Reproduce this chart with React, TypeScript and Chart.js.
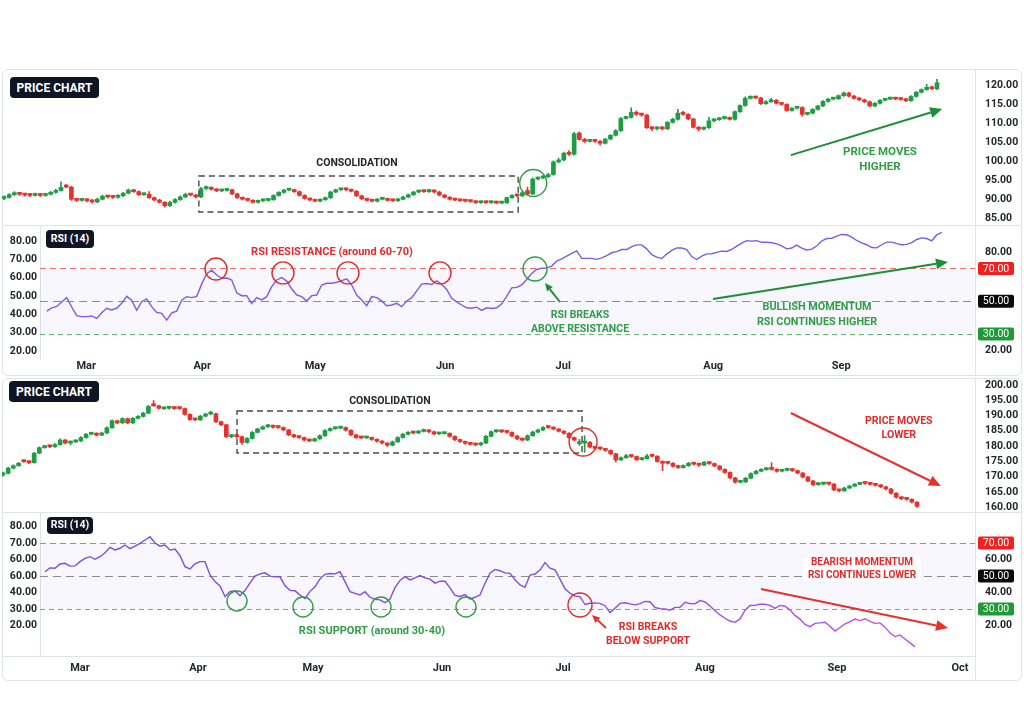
import React, { useEffect, useRef } from 'react';
import { Chart, registerables } from 'chart.js';

Chart.register(...registerables);

const FONT = 'Roboto, "Liberation Sans", Arial, sans-serif';
Chart.defaults.font.family = FONT;

// palette
const UP = '#1f9d45';
const DOWN = '#e5322d';
const INK = '#23272e';
const TXT_GREEN = '#2f9e44';
const TXT_RED = '#e22a2a';
const ARROW_GREEN = '#1c8f37';
const ARROW_RED = '#e8302c';
const RULE = '#e0e3e7';
const BADGE = '#0f1522';

// ---------- upper panel: breakout above resistance ----------
// daily candles: [open, high, low, close]
const upCandles = [
  [90.2, 90.9, 89.9, 90.5], [90.5, 91.5, 90.3, 91.2], [91.2, 92.0, 91.0, 91.6], [91.6, 91.8, 91.0, 91.3], [91.3, 91.5, 90.8, 91.1],
  [91.1, 91.4, 90.7, 91.0], [91.0, 91.6, 90.8, 91.3], [91.3, 91.5, 90.7, 91.0], [91.0, 91.6, 90.8, 91.3], [91.3, 92.1, 91.1, 91.8],
  [91.8, 92.6, 91.6, 92.3], [92.3, 94.6, 92.1, 93.1], [93.6, 93.9, 93.0, 93.2], [93.2, 93.4, 89.7, 90.0], [90.0, 90.3, 89.4, 89.7],
  [89.7, 90.2, 89.5, 89.9], [89.9, 90.1, 89.3, 89.6], [89.6, 89.9, 89.0, 89.3], [89.3, 90.3, 89.1, 90.0], [90.0, 91.1, 89.8, 90.8],
  [90.8, 91.0, 90.3, 90.6], [90.6, 90.9, 90.2, 90.5], [90.5, 91.2, 90.3, 90.9], [90.9, 91.8, 90.7, 91.6], [91.6, 92.7, 91.4, 92.4],
  [92.4, 92.6, 91.8, 92.0], [92.0, 92.2, 91.0, 91.2], [91.2, 91.6, 91.0, 91.3], [91.3, 92.0, 90.2, 90.4], [90.4, 90.6, 89.6, 89.8],
  [89.8, 90.0, 89.0, 89.2], [89.2, 89.4, 87.9, 88.3], [88.3, 89.5, 88.1, 89.2], [89.2, 90.2, 89.0, 89.9], [89.9, 90.9, 89.7, 90.6],
  [90.6, 91.6, 90.4, 91.3], [91.3, 91.5, 90.9, 91.1], [91.1, 91.3, 90.3, 90.6], [90.6, 93.1, 90.4, 92.8], [92.8, 93.5, 92.6, 93.1],
  [93.1, 93.3, 92.4, 92.6], [92.6, 92.8, 92.0, 92.2], [92.2, 92.6, 92.0, 92.3], [92.3, 92.8, 92.1, 92.5], [92.5, 92.7, 91.2, 91.4],
  [91.4, 91.6, 90.2, 90.4], [90.4, 90.6, 89.8, 90.0], [90.0, 90.2, 89.5, 89.7], [89.7, 89.9, 89.0, 89.2], [89.2, 89.8, 89.0, 89.6],
  [89.6, 89.9, 89.4, 89.7], [89.7, 90.1, 89.5, 89.9], [89.9, 91.2, 89.7, 91.0], [91.0, 92.0, 90.8, 91.8], [91.8, 92.6, 91.6, 92.4],
  [92.4, 92.8, 92.2, 92.5], [92.5, 92.7, 91.8, 92.0], [92.0, 92.2, 90.8, 91.0], [91.0, 91.2, 90.0, 90.2], [90.2, 90.4, 89.6, 89.8],
  [89.8, 90.0, 89.3, 89.5], [89.5, 90.1, 89.3, 89.9], [89.9, 90.6, 89.7, 90.4], [90.4, 92.1, 90.2, 91.9], [91.9, 92.7, 91.7, 92.5],
  [92.5, 92.9, 92.3, 92.6], [92.6, 92.8, 92.2, 92.5], [92.5, 92.7, 91.9, 92.1], [92.1, 92.3, 90.7, 90.9], [90.9, 91.1, 89.9, 90.1],
  [90.1, 90.3, 89.5, 89.7], [89.7, 89.9, 89.3, 89.5], [89.5, 90.2, 89.3, 90.0], [90.0, 90.4, 89.8, 90.1], [90.1, 90.3, 89.5, 89.7],
  [89.7, 89.9, 89.4, 89.6], [89.6, 90.2, 89.4, 90.0], [90.0, 90.8, 89.8, 90.6], [90.6, 91.4, 90.4, 91.2], [91.2, 92.1, 91.0, 91.9],
  [91.9, 92.4, 91.7, 92.2], [92.2, 92.4, 91.8, 92.0], [92.0, 92.6, 91.8, 92.3], [92.3, 92.5, 91.7, 91.9], [91.9, 92.1, 90.9, 91.1],
  [91.1, 91.3, 90.3, 90.5], [90.5, 90.7, 89.8, 90.0], [90.0, 90.2, 89.6, 89.8], [89.8, 90.0, 89.4, 89.6], [89.6, 89.9, 89.3, 89.5],
  [89.5, 89.7, 89.2, 89.4], [89.4, 89.6, 88.9, 89.1], [89.1, 89.5, 88.9, 89.3], [89.3, 89.5, 88.9, 89.1], [89.1, 89.5, 88.9, 89.3],
  [89.3, 89.5, 88.8, 89.0], [89.0, 89.3, 88.8, 89.1], [89.1, 90.6, 88.9, 90.4], [90.4, 91.2, 90.2, 91.0], [91.0, 91.2, 90.6, 90.9],
  [90.9, 92.0, 90.7, 91.7], [92.3, 93.2, 91.2, 91.4], [91.4, 95.6, 91.2, 95.3], [95.3, 95.9, 95.1, 95.6], [95.6, 96.2, 95.4, 95.9],
  [95.9, 96.8, 95.7, 96.5], [96.5, 100.1, 96.3, 99.8], [99.8, 100.8, 99.6, 100.3], [100.3, 102.4, 100.1, 102.1], [102.3, 102.8, 101.5, 101.8],
  [101.8, 107.6, 101.6, 107.2], [107.4, 107.7, 105.5, 105.7], [105.7, 106.0, 104.9, 105.2], [105.2, 105.6, 105.0, 105.3], [105.3, 105.6, 104.9, 105.2],
  [105.2, 105.4, 104.2, 104.7], [104.7, 106.0, 104.5, 105.8], [105.8, 107.0, 105.6, 106.8], [106.8, 108.3, 106.6, 108.0], [108.0, 111.5, 107.8, 111.2],
  [111.2, 111.8, 111.0, 111.5], [111.5, 114.0, 111.3, 112.8], [112.8, 113.2, 112.0, 112.3], [112.3, 112.5, 111.8, 112.1], [112.1, 112.3, 108.6, 108.8],
  [108.8, 109.1, 108.0, 108.5], [108.5, 109.0, 108.2, 108.7], [108.7, 109.0, 108.2, 108.5], [108.5, 110.4, 108.3, 110.2], [110.2, 111.3, 110.0, 111.0],
  [111.0, 113.6, 110.8, 112.6], [112.6, 113.1, 112.1, 112.3], [112.3, 112.5, 110.9, 111.1], [111.1, 111.3, 108.7, 108.9], [108.9, 109.1, 107.9, 108.4],
  [108.4, 109.0, 108.2, 108.8], [108.8, 111.5, 108.6, 110.6], [110.6, 111.1, 110.4, 110.9], [110.9, 111.4, 110.7, 111.2], [111.2, 111.6, 111.0, 111.4],
  [111.4, 111.6, 110.8, 111.0], [111.0, 113.2, 110.8, 113.0], [113.0, 114.8, 112.8, 114.6], [114.6, 116.9, 114.4, 116.5], [116.5, 117.2, 116.3, 116.8],
  [116.8, 117.0, 116.4, 116.6], [116.6, 116.8, 114.9, 115.1], [115.1, 115.9, 114.9, 115.6], [115.6, 116.5, 115.4, 116.0], [116.0, 116.2, 115.0, 115.2],
  [115.2, 115.4, 114.7, 114.9], [114.9, 115.1, 113.1, 113.3], [113.3, 114.1, 113.1, 113.9], [113.9, 114.3, 113.7, 114.1], [114.1, 114.3, 111.8, 112.3],
  [112.3, 112.8, 112.1, 112.6], [112.6, 113.8, 112.4, 113.6], [113.6, 114.7, 113.4, 114.5], [114.5, 115.9, 114.3, 115.7], [115.7, 116.5, 115.5, 116.3],
  [116.3, 116.7, 116.1, 116.4], [116.4, 117.4, 116.2, 117.2], [117.2, 118.2, 117.0, 117.9], [117.9, 118.1, 116.9, 117.1], [117.1, 117.3, 116.3, 116.5],
  [116.5, 116.7, 115.9, 116.1], [116.1, 116.3, 115.4, 115.6], [115.6, 115.8, 114.3, 114.5], [114.5, 115.4, 114.3, 115.2], [115.2, 116.2, 115.0, 116.0],
  [116.0, 116.5, 115.8, 116.3], [116.3, 116.8, 116.1, 116.5], [116.5, 116.7, 116.1, 116.3], [116.3, 116.5, 116.0, 116.2], [116.2, 116.4, 115.6, 115.9],
  [115.9, 117.2, 115.7, 117.0], [117.0, 118.3, 116.8, 118.1], [118.1, 119.0, 117.9, 118.8], [118.8, 120.2, 118.6, 119.4], [119.5, 119.7, 118.8, 119.0],
  [119.0, 121.5, 118.8, 120.6],
];

// RSI(14), one value per session
const upRsi = [
  44.0, 46.0, 46.8, 49.5, 52.2, 46.5, 41.2, 40.6, 40.6, 41.0,
  39.5, 43.0, 45.7, 44.7, 45.7, 48.7, 53.0, 50.7, 44.5, 49.7,
  51.4, 46.7, 43.2, 42.6, 38.5, 42.9, 44.0, 50.6, 52.8, 52.2,
  53.0, 60.6, 66.8, 69.0, 66.0, 64.0, 64.2, 63.0, 55.2, 53.4,
  53.4, 48.7, 52.2, 50.8, 52.8, 58.9, 63.0, 64.5, 62.3, 57.6,
  53.8, 52.8, 50.2, 53.4, 53.8, 59.9, 61.0, 61.0, 61.6, 62.6,
  63.7, 59.9, 53.8, 50.8, 47.3, 52.8, 52.2, 50.2, 47.3, 47.7,
  48.7, 46.7, 50.2, 52.2, 56.3, 60.5, 60.8, 60.2, 62.5, 60.3,
  57.2, 51.8, 49.6, 47.7, 46.0, 45.7, 46.4, 44.4, 46.0, 45.6,
  46.0, 48.4, 53.0,
  58.2, 58.5, 60.0, 63.3, 67.0, 69.4, 70.2, 70.4, 71.5, 74.5,
  75.9, 77.5, 79.2, 80.8, 76.2, 76.2, 76.2, 75.6, 76.5, 77.9,
  79.6, 80.3, 81.6, 81.6, 83.4, 84.4, 84.4, 82.0, 78.4, 76.9,
  76.1, 78.8, 81.1, 82.6, 82.5, 81.6, 77.3, 75.5, 77.5, 78.9,
  79.0, 79.8, 80.6, 80.4, 81.6, 83.7, 85.5, 87.0, 86.7, 87.0,
  86.0, 86.0, 85.7, 85.0, 83.8, 82.0, 82.5, 84.3, 82.4, 81.3,
  81.8, 83.7, 86.8, 88.3, 88.4, 89.8, 90.8, 90.6, 89.1, 87.1,
  85.7, 84.5, 82.8, 82.6, 84.5, 86.1, 86.1, 85.2, 84.5, 84.7,
  85.8, 87.7, 88.7, 88.3, 86.9, 90.5, 92.1,
];

const upPriceTicks = [85, 90, 95, 100, 105, 110, 115, 120];
const upRsiLeftTicks = [80, 70, 60, 50, 40, 30, 20];
const upRsiLeftLabels = ['80.00', '70.00', '60.00', '50.00', '40.00', '30.00', '20.00'];
const upRsiRightTicks = [80, 20];
const upMonths = ['Mar', 'Apr', 'May', 'Jun', 'Jul', 'Aug', 'Sep'];
const upMonthAt = [7.9, 31.1, 53.7, 79.7, 103.3, 133.3, 158.9];

// ---------- lower panel: breakdown below support ----------
const downCandles = [
  [170.6, 171.5, 170.2, 171.1], [171.1, 173.1, 170.9, 172.8], [172.8, 173.9, 172.6, 173.6], [173.6, 174.7, 173.4, 174.4], [175.3, 175.5, 174.7, 174.9],
  [174.9, 175.1, 174.3, 174.6], [174.6, 178.0, 174.4, 177.7], [177.7, 179.8, 177.5, 179.5], [179.5, 180.3, 179.3, 180.0], [180.0, 180.2, 179.5, 179.8],
  [179.8, 180.8, 179.6, 180.5], [180.5, 182.4, 180.3, 182.0], [182.0, 182.2, 180.7, 181.0], [181.0, 181.7, 180.4, 181.4], [181.4, 182.0, 181.2, 181.7],
  [181.7, 183.1, 181.5, 182.8], [182.8, 184.2, 182.6, 183.9], [183.9, 184.5, 183.7, 184.2], [184.2, 184.4, 183.3, 183.6], [183.6, 184.6, 183.4, 184.3],
  [184.3, 186.3, 184.1, 186.0], [186.0, 188.6, 185.8, 188.3], [188.3, 188.5, 187.3, 187.6], [187.6, 189.3, 187.4, 189.0], [189.0, 189.2, 187.3, 187.6],
  [187.6, 189.4, 187.4, 189.1], [189.1, 190.0, 188.9, 189.7], [189.7, 191.1, 189.5, 190.8], [190.8, 193.3, 190.6, 193.0], [193.8, 194.9, 193.0, 193.2],
  [193.2, 193.4, 192.1, 192.4], [192.2, 192.8, 192.0, 192.4], [192.4, 192.8, 192.1, 192.5], [192.5, 192.9, 192.0, 192.3], [192.5, 192.7, 192.0, 192.3],
  [192.3, 192.5, 190.1, 190.4], [190.4, 190.6, 188.4, 188.7], [188.7, 189.0, 188.3, 188.6], [188.6, 190.1, 188.4, 189.8], [189.8, 190.8, 189.6, 190.5],
  [190.5, 191.4, 190.3, 190.6], [190.6, 190.8, 187.7, 188.0], [188.0, 188.2, 186.7, 187.0], [187.0, 187.2, 182.8, 183.1], [183.1, 183.9, 182.7, 183.2],
  [183.2, 183.8, 182.6, 183.1], [183.1, 183.3, 180.6, 181.2], [181.2, 182.8, 181.0, 182.5], [182.5, 184.8, 182.3, 184.5], [184.5, 185.9, 184.3, 185.6],
  [185.6, 186.6, 185.4, 186.3], [186.3, 187.1, 186.1, 186.7], [186.7, 186.9, 185.9, 186.2], [186.2, 186.5, 185.8, 186.1], [186.1, 186.3, 185.0, 185.3],
  [185.3, 185.5, 183.4, 183.7], [183.7, 183.9, 182.8, 183.1], [183.1, 183.4, 182.5, 182.8], [182.8, 183.0, 181.7, 182.0], [182.0, 182.3, 181.4, 181.7],
  [181.7, 182.7, 181.5, 182.4], [182.4, 183.7, 182.2, 183.4], [183.4, 185.4, 183.2, 185.1], [185.1, 186.0, 184.9, 185.7], [185.7, 186.2, 185.5, 185.9],
  [185.9, 186.5, 185.7, 186.1], [186.1, 186.3, 184.9, 185.2], [185.2, 185.4, 183.4, 183.7], [183.7, 183.9, 182.5, 182.8], [182.8, 183.1, 182.4, 182.7],
  [182.7, 183.1, 182.5, 182.8], [182.8, 183.0, 181.9, 182.2], [182.2, 182.4, 181.3, 181.6], [181.6, 181.8, 180.7, 181.0], [181.0, 181.2, 179.9, 180.3],
  [180.3, 181.7, 180.1, 181.4], [181.4, 183.1, 181.2, 182.8], [182.8, 184.2, 182.6, 183.9], [183.9, 184.8, 183.7, 184.5], [184.5, 184.7, 184.0, 184.3],
  [184.3, 185.1, 184.1, 184.8], [184.8, 185.6, 184.6, 185.2], [185.2, 185.4, 184.4, 184.7], [184.7, 184.9, 183.7, 184.0], [184.0, 184.4, 183.8, 184.1],
  [184.1, 184.5, 183.9, 184.2], [184.2, 184.4, 182.9, 183.2], [183.2, 183.4, 181.8, 182.1], [182.1, 182.3, 181.2, 181.5], [181.5, 181.7, 180.6, 180.9],
  [180.9, 181.1, 180.3, 180.6], [180.6, 180.8, 180.1, 180.4], [180.4, 181.3, 180.2, 181.0], [181.0, 183.5, 180.8, 183.2], [183.2, 185.0, 183.0, 184.7],
  [184.7, 185.4, 184.5, 185.0], [185.0, 185.2, 184.4, 184.7], [184.7, 184.9, 184.2, 184.5], [184.5, 184.7, 183.0, 183.3], [183.3, 183.5, 182.1, 182.4],
  [182.4, 182.6, 181.7, 182.0], [182.0, 183.7, 181.8, 183.4], [183.4, 184.9, 183.2, 184.6], [184.6, 185.6, 184.4, 185.3], [185.3, 186.4, 185.1, 186.1],
  [186.3, 186.6, 185.8, 186.1], [186.1, 186.3, 185.3, 185.6], [185.6, 185.8, 184.6, 184.9], [184.9, 185.1, 183.9, 184.2], [184.2, 184.4, 182.5, 182.8],
  [182.8, 183.0, 181.7, 182.0], [180.8, 182.2, 180.2, 181.0], [181.0, 183.4, 178.0, 181.3], [181.3, 181.5, 179.4, 179.7], [179.7, 179.9, 179.0, 179.3],
  [179.3, 179.6, 178.8, 179.1], [179.1, 179.3, 178.3, 178.6], [178.6, 178.8, 177.2, 177.5], [177.5, 177.7, 174.8, 175.5], [175.5, 176.5, 175.3, 176.2],
  [176.2, 177.3, 176.0, 176.9], [176.9, 177.1, 176.3, 176.6], [176.6, 176.8, 175.3, 175.6], [175.6, 176.1, 175.4, 175.9], [175.9, 177.3, 175.7, 176.8],
  [176.8, 177.0, 176.4, 176.7], [176.7, 176.9, 174.7, 175.0], [175.0, 175.2, 172.0, 174.4], [174.6, 174.8, 174.1, 174.4], [174.4, 174.6, 173.1, 173.4],
  [173.4, 173.6, 172.7, 173.0], [173.0, 173.9, 172.8, 173.6], [173.6, 174.7, 173.4, 174.4], [174.4, 174.6, 173.8, 174.1], [174.1, 174.3, 173.4, 173.8],
  [173.8, 175.0, 173.6, 174.7], [174.7, 174.9, 174.0, 174.3], [174.3, 174.5, 173.2, 173.5], [173.5, 173.7, 172.1, 172.4], [172.4, 172.6, 171.1, 171.4],
  [171.4, 171.6, 169.3, 169.6], [169.6, 169.8, 167.9, 168.2], [168.2, 168.6, 167.9, 168.3], [168.3, 169.8, 168.1, 169.5], [169.5, 171.3, 169.3, 171.0],
  [171.0, 172.1, 170.8, 171.8], [171.8, 172.6, 171.6, 172.3], [172.3, 173.0, 172.1, 172.7], [172.7, 174.6, 172.1, 172.4], [172.4, 172.6, 171.5, 171.8],
  [171.8, 172.4, 171.6, 172.1], [172.1, 172.8, 171.9, 172.5], [172.5, 172.7, 171.7, 172.0], [172.0, 172.2, 170.9, 171.2], [171.2, 171.4, 169.6, 169.9],
  [169.9, 170.1, 168.3, 168.6], [168.6, 168.8, 167.1, 167.4], [167.4, 168.1, 167.2, 167.8], [167.6, 168.1, 167.4, 167.8], [167.8, 168.0, 167.3, 167.6],
  [167.6, 167.8, 165.4, 165.7], [165.7, 165.9, 165.0, 165.4], [165.4, 166.6, 165.2, 166.3], [166.3, 167.2, 166.1, 166.9], [166.9, 167.8, 166.7, 167.5],
  [167.5, 168.1, 167.3, 167.8], [168.0, 168.2, 167.5, 167.8], [167.8, 168.0, 167.2, 167.5], [167.5, 167.7, 166.9, 167.2], [167.2, 167.4, 166.4, 166.7],
  [166.7, 166.9, 165.7, 166.0], [166.0, 166.2, 164.3, 164.6], [164.6, 164.8, 163.0, 163.3], [163.3, 163.5, 162.5, 162.8], [162.8, 163.1, 162.3, 162.6],
  [162.6, 162.8, 161.4, 161.7], [161.7, 161.9, 160.0, 160.3],
];

const downRsi = [
  52.6, 54.9, 54.7, 57.3, 57.7, 56.0, 56.1, 58.7, 60.7, 61.7,
  60.1, 61.7, 64.1, 67.4, 65.8, 66.8, 68.8, 66.6, 68.1, 69.8,
  71.8, 73.8, 70.0, 68.1, 68.8, 65.7, 66.3, 62.3, 55.6, 54.3,
  57.4, 58.7, 58.7, 50.6, 46.6, 44.0, 37.5, 40.5, 41.1, 38.0,
  41.2, 45.8, 49.9, 51.3, 51.9, 49.9, 49.5, 49.5, 44.1, 41.3,
  41.1, 38.4, 36.3, 40.7, 43.4, 48.2, 51.0, 51.5, 51.3, 52.6,
  46.6, 40.5, 39.5, 38.5, 40.5, 37.1, 35.9, 35.5, 33.8, 36.1,
  42.9, 47.3, 49.6, 47.6, 48.8, 50.3, 48.9, 48.1, 45.7, 46.9,
  46.8, 42.8, 38.2, 37.6, 38.7, 36.1, 37.1, 38.5, 45.6, 51.7,
  54.0, 53.2, 51.9, 51.6, 47.7,
  44.6, 43.1, 50.6, 51.2, 53.6, 58.1, 54.7, 53.7, 48.1, 42.2,
  39.6, 37.8, 37.5, 32.7, 33.5, 33.7, 33.4, 32.0, 27.8, 30.4,
  33.4, 33.8, 33.1, 32.5, 33.3, 34.6, 34.4, 30.9, 30.2, 30.1,
  29.3, 31.0, 31.0, 34.1, 33.3, 33.1, 35.1, 34.3, 31.8, 28.9,
  26.4, 24.4, 22.7, 21.9, 24.0, 29.1, 32.1, 32.2, 32.9, 32.9,
  32.2, 30.4, 32.2, 31.7, 29.4, 26.1, 23.9, 20.6, 19.3, 21.3,
  21.6, 22.0, 19.6, 16.6, 18.8, 21.0, 22.4, 23.9, 23.0, 24.1,
  22.5, 21.3, 21.6, 19.0, 15.4, 13.3, 14.2, 11.8, 9.5, 7.2,
];

const downPriceTicks = [160, 165, 170, 175, 180, 185, 190, 195, 200];
const downRsiLeftTicks = [80, 70, 60, 50, 40, 30, 20];
const downRsiLeftLabels = ['80.00', '70.00', '60.00', '60.00', '40.00', '30.00', '20.00'];
const downRsiRightTicks = [60, 40, 20];
const downMonths = ['Mar', 'Apr', 'May', 'Jun', 'Jul', 'Aug', 'Sep', 'Oct'];
const downMonthAt = [7, 30.6, 53.6, 79.4, 103.6, 132, 158.4, 183];

// overbought / midline / oversold guides
const rsiLevels = [70, 50, 30];
const rsiLevelColors = ['#ef6f6f', '#8c8c8c', '#5dbb6f'];
const rsiBadgeColors = ['#f2201e', '#0b0b0b', '#1e9a36'];

// ---------- drawing helpers ----------
type Note =
  | { t: 'box'; x0: number; x1: number; y0: number; y1: number; color: string }
  | { t: 'text'; x: number; y: number; lines: string[]; color: string; size: number; lh?: number; bg?: boolean }
  | { t: 'circle'; x: number; y: number; r: number; color: string }
  | { t: 'arrow'; x0: number; y0: number; x1: number; y1: number; color: string; head?: number };

function drawArrow(ctx: CanvasRenderingContext2D, x0: number, y0: number, x1: number, y1: number, color: string, head: number) {
  const ang = Math.atan2(y1 - y0, x1 - x0);
  const half = head * 0.45;
  const bx = x1 - head * Math.cos(ang);
  const by = y1 - head * Math.sin(ang);
  ctx.setLineDash([]);
  ctx.strokeStyle = color;
  ctx.fillStyle = color;
  ctx.lineWidth = 2;
  ctx.beginPath();
  ctx.moveTo(x0, y0);
  ctx.lineTo(bx, by);
  ctx.stroke();
  ctx.beginPath();
  ctx.moveTo(x1, y1);
  ctx.lineTo(bx + half * Math.sin(ang), by - half * Math.cos(ang));
  ctx.lineTo(bx - half * Math.sin(ang), by + half * Math.cos(ang));
  ctx.closePath();
  ctx.fill();
}

function notesPlugin(notes: Note[]) {
  return {
    id: 'notes',
    afterDatasetsDraw(chart: any) {
      const ctx: CanvasRenderingContext2D = chart.ctx;
      const X = (v: number) => chart.scales.x.getPixelForValue(v);
      const Y = (v: number) => chart.scales.y.getPixelForValue(v);
      ctx.save();
      for (const n of notes) {
        if (n.t === 'box') {
          ctx.setLineDash([6, 4]);
          ctx.lineWidth = 1.4;
          ctx.strokeStyle = n.color;
          ctx.strokeRect(X(n.x0), Y(n.y0), X(n.x1) - X(n.x0), Y(n.y1) - Y(n.y0));
        } else if (n.t === 'circle') {
          ctx.setLineDash([]);
          ctx.lineWidth = 1.4;
          ctx.strokeStyle = n.color;
          ctx.beginPath();
          ctx.arc(X(n.x), Y(n.y), n.r, 0, Math.PI * 2);
          ctx.stroke();
        } else if (n.t === 'arrow') {
          drawArrow(ctx, X(n.x0), Y(n.y0), X(n.x1), Y(n.y1), n.color, n.head ?? 12);
        } else {
          ctx.font = `bold ${n.size}px ${FONT}`;
          ctx.textAlign = 'center';
          ctx.textBaseline = 'middle';
          const lh = n.lh ?? n.size * 1.3;
          const cx = X(n.x);
          const top = Y(n.y) - ((n.lines.length - 1) * lh) / 2;
          if (n.bg) {
            const w = Math.max(...n.lines.map((l) => ctx.measureText(l).width)) + 10;
            ctx.fillStyle = '#ffffff';
            ctx.fillRect(cx - w / 2, top - lh / 2, w, lh * n.lines.length);
          }
          ctx.fillStyle = n.color;
          n.lines.forEach((l, i) => ctx.fillText(l, cx, top + i * lh));
        }
      }
      ctx.restore();
    },
  };
}

function rsiGuidesPlugin() {
  return {
    id: 'rsiGuides',
    beforeDatasetsDraw(chart: any) {
      const ctx: CanvasRenderingContext2D = chart.ctx;
      const a = chart.chartArea;
      const ys = chart.scales.y;
      const yHi = ys.getPixelForValue(rsiLevels[0]);
      const yLo = ys.getPixelForValue(rsiLevels[2]);
      ctx.save();
      ctx.fillStyle = 'rgba(124, 92, 230, 0.055)';
      ctx.fillRect(a.left, yHi, a.right - a.left, yLo - yHi);
      const dashes = [[6, 4], [8, 5], [5, 4]];
      rsiLevels.forEach((lv, i) => {
        const y = Math.round(ys.getPixelForValue(lv)) + 0.5;
        ctx.setLineDash(dashes[i]);
        ctx.strokeStyle = rsiLevelColors[i];
        ctx.lineWidth = 1;
        ctx.beginPath();
        ctx.moveTo(a.left, y);
        ctx.lineTo(a.right, y);
        ctx.stroke();
      });
      ctx.restore();
    },
    afterDraw(chart: any) {
      const ctx: CanvasRenderingContext2D = chart.ctx;
      const a = chart.chartArea;
      const ys = chart.scales.y;
      ctx.save();
      rsiLevels.forEach((lv, i) => {
        const y = ys.getPixelForValue(lv);
        const x = a.right + 3;
        const w = 36;
        const h = 13;
        ctx.fillStyle = rsiBadgeColors[i];
        ctx.beginPath();
        ctx.roundRect(x, y - h / 2, w, h, 2);
        ctx.fill();
        ctx.fillStyle = '#ffffff';
        ctx.font = `10.5px ${FONT}`;
        ctx.textAlign = 'center';
        ctx.textBaseline = 'middle';
        ctx.fillText(lv.toFixed(2), x + w / 2, y + 0.5);
      });
      ctx.restore();
    },
  };
}

const AXIS_W_RIGHT = 46;
const AXIS_W_LEFT = 38;

function makePriceChart(canvas: HTMLCanvasElement, candles: number[][], yMin: number, yMax: number, ticks: number[], firstPx: number, lastPx: number, notes: Note[]) {
  const n = candles.length;
  const step = (lastPx - firstPx) / (n - 1);
  const plotRight = canvas.width - AXIS_W_RIGHT;
  const colors = candles.map((c) => (c[3] >= c[0] ? UP : DOWN));
  return new Chart(canvas, {
    type: 'bar',
    data: {
      datasets: [
        { label: 'range', data: candles.map((c, i) => ({ x: i, y: [c[2], c[1]] })), backgroundColor: colors, barThickness: 1, grouped: false, order: 2 },
        { label: 'body', data: candles.map((c, i) => ({ x: i, y: [c[0], c[3]] })), backgroundColor: colors, barThickness: 4, minBarLength: 2, grouped: false, order: 1 },
      ] as any,
    },
    options: {
      animation: false,
      responsive: false,
      events: [],
      layout: { padding: 0 },
      plugins: { legend: { display: false }, tooltip: { enabled: false } },
      scales: {
        x: { type: 'linear', display: false, offset: false, bounds: 'data', min: -firstPx / step, max: n - 1 + (plotRight - lastPx) / step },
        y: {
          position: 'right', min: yMin, max: yMax, bounds: 'data',
          grid: { display: false, drawTicks: false }, border: { display: false },
          afterBuildTicks: (s: any) => { s.ticks = ticks.map((v) => ({ value: v })); },
          afterFit: (s: any) => { s.width = AXIS_W_RIGHT; s.paddingTop = 0; s.paddingBottom = 0; },
          ticks: { padding: 10, color: INK, autoSkip: false, font: { size: 10.5, weight: 'bold' }, callback: (v: any) => Number(v).toFixed(2) },
        },
      },
    } as any,
    plugins: [notesPlugin(notes)],
  });
}

type RsiSpec = {
  values: number[];
  firstPx: number;
  step: number;
  yMin: number;
  yMax: number;
  rightTicks: number[];
  leftMin: number;
  leftMax: number;
  leftTicks: number[];
  leftLabels: string[];
  months: string[];
  monthAt: number[];
  axisH: number;
  labelPad: number;
  color: (c: any) => any;
  notes: Note[];
};

function makeRsiChart(canvas: HTMLCanvasElement, s: RsiSpec) {
  const n = s.values.length;
  const plotLeft = AXIS_W_LEFT;
  const plotRight = canvas.width - AXIS_W_RIGHT;
  const lastPx = s.firstPx + s.step * (n - 1);
  const tickFont = { size: 10.5, weight: 'bold' };
  return new Chart(canvas, {
    type: 'line',
    data: {
      datasets: [
        { label: 'RSI (14)', data: s.values.map((v, i) => ({ x: i, y: v })), borderColor: s.color, borderWidth: 1.4, pointRadius: 0, tension: 0, yAxisID: 'y' },
      ],
    },
    options: {
      animation: false,
      responsive: false,
      events: [],
      layout: { padding: { top: 1, left: 0, right: 0, bottom: 0 } },
      plugins: { legend: { display: false }, tooltip: { enabled: false } },
      scales: {
        x: {
          type: 'linear', offset: false, bounds: 'data',
          min: (plotLeft - s.firstPx) / s.step, max: n - 1 + (plotRight - lastPx) / s.step,
          grid: { display: false, drawTicks: false }, border: { display: false },
          afterBuildTicks: (sc: any) => { sc.ticks = s.monthAt.map((v) => ({ value: v })); },
          afterFit: (sc: any) => { sc.height = s.axisH; sc.paddingLeft = 0; sc.paddingRight = 0; },
          ticks: { padding: s.labelPad, color: INK, autoSkip: false, maxRotation: 0, font: { size: 11, weight: 'bold' }, callback: (_v: any, i: number) => s.months[i] },
        },
        y: {
          position: 'right', min: s.yMin, max: s.yMax, bounds: 'data',
          grid: { display: false, drawTicks: false }, border: { display: false },
          afterBuildTicks: (sc: any) => { sc.ticks = s.rightTicks.map((v) => ({ value: v })); },
          afterFit: (sc: any) => { sc.width = AXIS_W_RIGHT; sc.paddingTop = 0; sc.paddingBottom = 0; },
          ticks: { padding: 10, color: INK, autoSkip: false, font: tickFont, callback: (v: any) => Number(v).toFixed(2) },
        },
        yl: {
          axis: 'y', position: 'left', min: s.leftMin, max: s.leftMax, bounds: 'data',
          grid: { display: false, drawTicks: false }, border: { display: false },
          afterBuildTicks: (sc: any) => { sc.ticks = s.leftTicks.map((v) => ({ value: v })); },
          afterFit: (sc: any) => { sc.width = AXIS_W_LEFT; sc.paddingTop = 0; sc.paddingBottom = 0; },
          ticks: { padding: 3, color: INK, autoSkip: false, font: tickFont, callback: (_v: any, i: number) => s.leftLabels[i] },
        },
      },
    } as any,
    plugins: [rsiGuidesPlugin(), notesPlugin(s.notes)],
  });
}

// ---------- annotations ----------
const upPriceNotes: Note[] = [
  { t: 'box', x0: 37.6, x1: 99.2, y0: 96.1, y1: 86.65, color: '#4a4a4a' },
  { t: 'text', x: 68.1, y: 99.5, lines: ['CONSOLIDATION'], color: INK, size: 10.5 },
  { t: 'circle', x: 102.1, y: 94.27, r: 13.5, color: TXT_GREEN },
  { t: 'arrow', x0: 151.8, y0: 101.6, x1: 181.0, y1: 113.7, color: ARROW_GREEN },
  { t: 'text', x: 169.0, y: 100.45, lines: ['PRICE MOVES', 'HIGHER'], color: TXT_GREEN, size: 11.5, lh: 15 },
];

const upRsiNotes: Note[] = [
  { t: 'text', x: 57.06, y: 80.08, lines: ['RSI RESISTANCE (around 60-70)'], color: TXT_RED, size: 11 },
  { t: 'circle', x: 33.86, y: 69.7, r: 11, color: TXT_RED },
  { t: 'circle', x: 47.26, y: 67.3, r: 11, color: TXT_RED },
  { t: 'circle', x: 60.26, y: 67.3, r: 11, color: TXT_RED },
  { t: 'circle', x: 78.66, y: 67.3, r: 11, color: TXT_RED },
  { t: 'circle', x: 97.66, y: 69.7, r: 12, color: TXT_GREEN },
  { t: 'arrow', x0: 102.66, y0: 49.54, x1: 99.66, y1: 61.15, color: ARROW_GREEN, head: 8 },
  { t: 'text', x: 106.66, y: 37.33, lines: ['RSI BREAKS', 'ABOVE RESISTANCE'], color: TXT_GREEN, size: 10.5, lh: 14 },
  { t: 'arrow', x0: 133.26, y0: 51.37, x1: 180.26, y1: 73.97, color: ARROW_GREEN },
  { t: 'text', x: 154.06, y: 41.9, lines: ['BULLISH MOMENTUM', 'RSI CONTINUES HIGHER'], color: TXT_GREEN, size: 10.8, lh: 15 },
];

const downPriceNotes: Note[] = [
  { t: 'box', x0: 45.06, x1: 111.5, y0: 191.5, y1: 177.76, color: '#4a4a4a' },
  { t: 'text', x: 74.5, y: 194.77, lines: ['CONSOLIDATION'], color: INK, size: 10.5 },
  { t: 'circle', x: 111.7, y: 181.36, r: 14, color: TXT_RED },
  { t: 'arrow', x0: 151.7, y0: 190.84, x1: 180.6, y1: 166.97, color: ARROW_RED },
  { t: 'text', x: 172.5, y: 185.94, lines: ['PRICE MOVES', 'LOWER'], color: TXT_RED, size: 10.5, lh: 14 },
];

const downRsiNotes: Note[] = [
  { t: 'circle', x: 38.4, y: 34.85, r: 10, color: TXT_GREEN },
  { t: 'circle', x: 51.6, y: 31.2, r: 10, color: TXT_GREEN },
  { t: 'circle', x: 67.2, y: 31.2, r: 10, color: TXT_GREEN },
  { t: 'circle', x: 84.2, y: 31.2, r: 10, color: TXT_GREEN },
  { t: 'text', x: 65.4, y: 16.67, lines: ['RSI SUPPORT (around 30-40)'], color: TXT_GREEN, size: 11 },
  { t: 'circle', x: 107, y: 32.4, r: 12, color: TXT_RED },
  { t: 'arrow', x0: 112.2, y0: 18.5, x1: 109.4, y1: 26.4, color: ARROW_RED, head: 8 },
  { t: 'text', x: 120.6, y: 14.85, lines: ['RSI BREAKS', 'BELOW SUPPORT'], color: TXT_RED, size: 10.5, lh: 14 },
  { t: 'text', x: 163.4, y: 54.24, lines: ['BEARISH MOMENTUM', 'RSI CONTINUES LOWER'], color: TXT_RED, size: 10, lh: 12.5, bg: true },
  { t: 'arrow', x0: 143.2, y0: 42.1, x1: 180.6, y1: 18.5, color: ARROW_RED },
];

const upLineColor = () => '#7c5ce6';
const downLineColor = (c: any) => {
  const a = c.chart.chartArea;
  if (!a) return '#7a50e0';
  const g = c.chart.ctx.createLinearGradient(a.left, 0, a.right, 0);
  g.addColorStop(0, '#764fe0');
  g.addColorStop(0.55, '#7d4fe2');
  g.addColorStop(1, '#cf4fe6');
  return g;
};

// ---------- React ----------
function ChartCanvas({ left, top, width, height, make }: { left: number; top: number; width: number; height: number; make: (c: HTMLCanvasElement) => Chart }) {
  const ref = useRef<HTMLCanvasElement>(null);
  useEffect(() => {
    const chart = make(ref.current!);
    return () => chart.destroy();
  }, []);
  return <canvas ref={ref} width={width} height={height} style={{ position: 'absolute', left, top, width, height }} />;
}

function Rule({ x, y, w, h }: { x: number; y: number; w: number; h: number }) {
  return <div style={{ position: 'absolute', left: x, top: y, width: w, height: h, background: RULE }} />;
}

function Tag({ x, y, w, h, text, size }: { x: number; y: number; w: number; h: number; text: string; size: number }) {
  return (
    <div style={{ position: 'absolute', left: x, top: y, width: w, height: h, background: BADGE, color: '#fff', borderRadius: 4, fontFamily: FONT, fontWeight: 700, fontSize: size, display: 'flex', alignItems: 'center', justifyContent: 'center', lineHeight: 1 }}>
      {text}
    </div>
  );
}

export default function App() {
  const card = (top: number, height: number): React.CSSProperties => ({
    position: 'absolute', left: 2, top, width: 1020, height, border: `1px solid ${RULE}`, borderRadius: 6, boxSizing: 'border-box', background: '#fff',
  });
  return (
    <div style={{ position: 'absolute', left: 0, top: 0, width: 1024, height: 725, background: '#ffffff', overflow: 'hidden' }}>
      <div style={card(69, 307)} />
      <div style={card(378, 303)} />
      <Rule x={2} y={225} w={1020} h={1} />
      <Rule x={975} y={69} w={1} h={307} />
      <Rule x={40} y={225} w={1} h={135} />
      <Rule x={2} y={512} w={1020} h={1} />
      <Rule x={975} y={378} w={1} h={303} />
      <Rule x={40} y={512} w={1} h={144} />
      <Rule x={2} y={656} w={973} h={1} />

      <ChartCanvas left={2} top={71} width={1019} height={154}
        make={(c) => makePriceChart(c, upCandles, 83.24, 123.68, upPriceTicks, 2, 935, upPriceNotes)} />
      <ChartCanvas left={2} top={226} width={1019} height={148}
        make={(c) => makeRsiChart(c, {
          values: upRsi, firstPx: 44.7, step: 5, yMin: 14.73, yMax: 95.34, rightTicks: upRsiRightTicks,
          leftMin: 15.64, leftMax: 87.64, leftTicks: upRsiLeftTicks, leftLabels: upRsiLeftLabels,
          months: upMonths, monthAt: upMonthAt, axisH: 15, labelPad: 1, color: upLineColor, notes: upRsiNotes,
        })} />
      <ChartCanvas left={2} top={379} width={1019} height={133}
        make={(c) => makePriceChart(c, downCandles, 158.46, 201.96, downPriceTicks, 1, 915, downPriceNotes)} />
      <ChartCanvas left={2} top={512} width={1019} height={169}
        make={(c) => makeRsiChart(c, {
          values: downRsi, firstPx: 43, step: 5, yMin: 2.12, yMax: 88.18, rightTicks: downRsiRightTicks,
          leftMin: 2.12, leftMax: 88.18, leftTicks: downRsiLeftTicks, leftLabels: downRsiLeftLabels,
          months: downMonths, monthAt: downMonthAt, axisH: 26, labelPad: 6.5, color: downLineColor, notes: downRsiNotes,
        })} />

      <Tag x={10} y={77} w={89} h={21} text="PRICE CHART" size={12} />
      <Tag x={46} y={230} w={48} h={18} text="RSI (14)" size={10.5} />
      <Tag x={9} y={381} w={90} h={21} text="PRICE CHART" size={12} />
      <Tag x={47} y={517} w={46} h={17} text="RSI (14)" size={10.5} />
    </div>
  );
}
